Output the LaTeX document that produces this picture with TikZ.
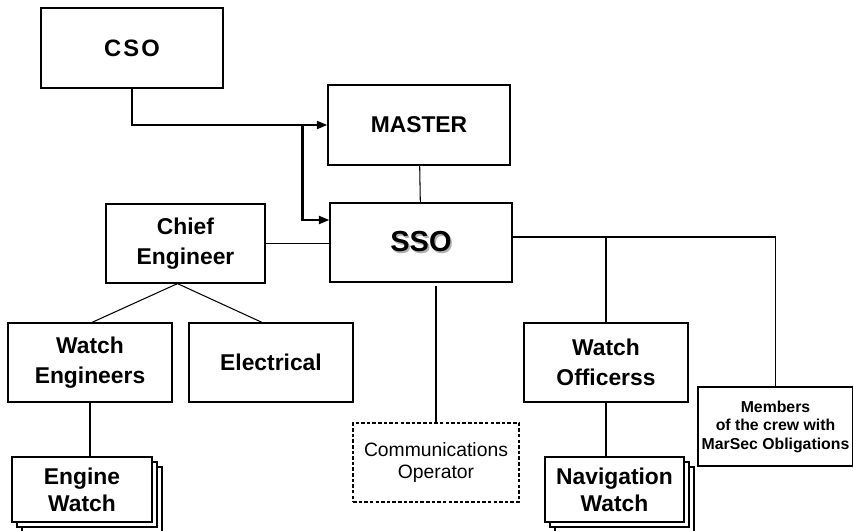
\documentclass[tikz,border=0pt]{standalone}
\usepackage{fontspec}
\setmainfont{Liberation Sans}
\newfontfamily\spacedfont{Liberation Sans}[LetterSpace=9]
\usetikzlibrary{arrows.meta, shadows}

\newcommand{\dropped}[1]{\makebox[0pt][l]{\kern0.9pt\raisebox{-0.9pt}{\color{gray!60}#1}}#1}

\tikzset{
	unit/.style={draw, line width=0.7pt, fill=white, align=center, inner sep=2pt,
		font=\bfseries\fontsize{13}{17}\selectfont},
	crew/.style={unit, double copy shadow={shadow xshift=0.1cm, shadow yshift=-0.1cm}},
	link/.style={line width=0.6pt},
	order/.style={line width=1.3pt, -{Triangle[length=6pt,width=4.5pt]}},
}

\begin{document}
\begin{tikzpicture}[x=0.02cm, y=-0.02cm]
	\useasboundingbox (0,0) rectangle (853,531);
	
	% Define the nodes
	\node (cso) [unit, minimum width=3.64cm, minimum height=1.6cm,
		font=\spacedfont\bfseries\fontsize{13.5}{16}\selectfont] at (132,48) {CSO};
	\node (master) [unit, minimum width=3.64cm, minimum height=1.6cm] at (419,125) {MASTER};
	\node (sso) [unit, minimum width=3.64cm, minimum height=1.58cm,
		font=\bfseries\fontsize{16.5}{20}\selectfont] at (421,242.5) {\dropped{SSO}};
	\node (chief) [unit, minimum width=3.18cm, minimum height=1.58cm] at (185.5,243.5) {Chief\\Engineer};
	
	\node (weng) [unit, minimum width=3.28cm, minimum height=1.58cm] at (90,362.5) {Watch\\Engineers};
	\node (elec) [unit, minimum width=3.28cm, minimum height=1.58cm] at (271,362.5) {Electrical};
	\node (comms) [unit, minimum width=3.32cm, minimum height=1.58cm, line width=0.9pt,
		dash pattern=on 2pt off 1.2pt, font=\fontsize{11}{13}\selectfont] at (436,462.5) {Communications\\Operator};
	\node (wofc) [unit, minimum width=3.28cm, minimum height=1.58cm] at (606,362.5) {Watch\\Officerss};
	\node (members) [unit, minimum width=3.1cm, minimum height=1.58cm,
		font=\bfseries\fontsize{9}{10.5}\selectfont] at (775.5,426.5) {Members\\of the crew with\\MarSec Obligations};
	
	\node (engw) [crew, minimum width=2.8cm, minimum height=1.3cm,
		font=\bfseries\fontsize{13}{15.5}\selectfont] at (82,489.5) {Engine\\Watch};
	\node (nav) [crew, minimum width=2.78cm, minimum height=1.3cm,
		font=\bfseries\fontsize{13}{15.5}\selectfont] at (614.5,489.5) {Navigation\\Watch};
	
	% Connect the nodes
	\coordinate (split) at ([xshift=-0.5cm]master.west);
	\draw[order] (cso.south) |- (master.west);
	\draw[order] (split) |- ([yshift=0.45cm]sso.west);
	\draw[link] (master) -- (sso);
	\draw[link] (chief.east) -- (chief.east -| sso.west);
	\draw[link] ([xshift=-0.16cm]chief.south) -- ([xshift=0.04cm]weng.north);
	\draw[link] ([xshift=-0.16cm]chief.south) -- ([xshift=-0.18cm]elec.north);
	\draw[link] (weng.south) -- (weng.south |- engw.north);
	\draw[link] (comms.north) -- ([yshift=-0.06cm]comms.north |- sso.south);
	\draw[line width=1pt] ([yshift=0.11cm]sso.east) -| (members.north);
	\draw[link] (wofc.north) |- ([yshift=0.11cm]sso.east);
	\draw[link] (wofc.south) -- (wofc.south |- nav.north);
\end{tikzpicture}
\end{document}
